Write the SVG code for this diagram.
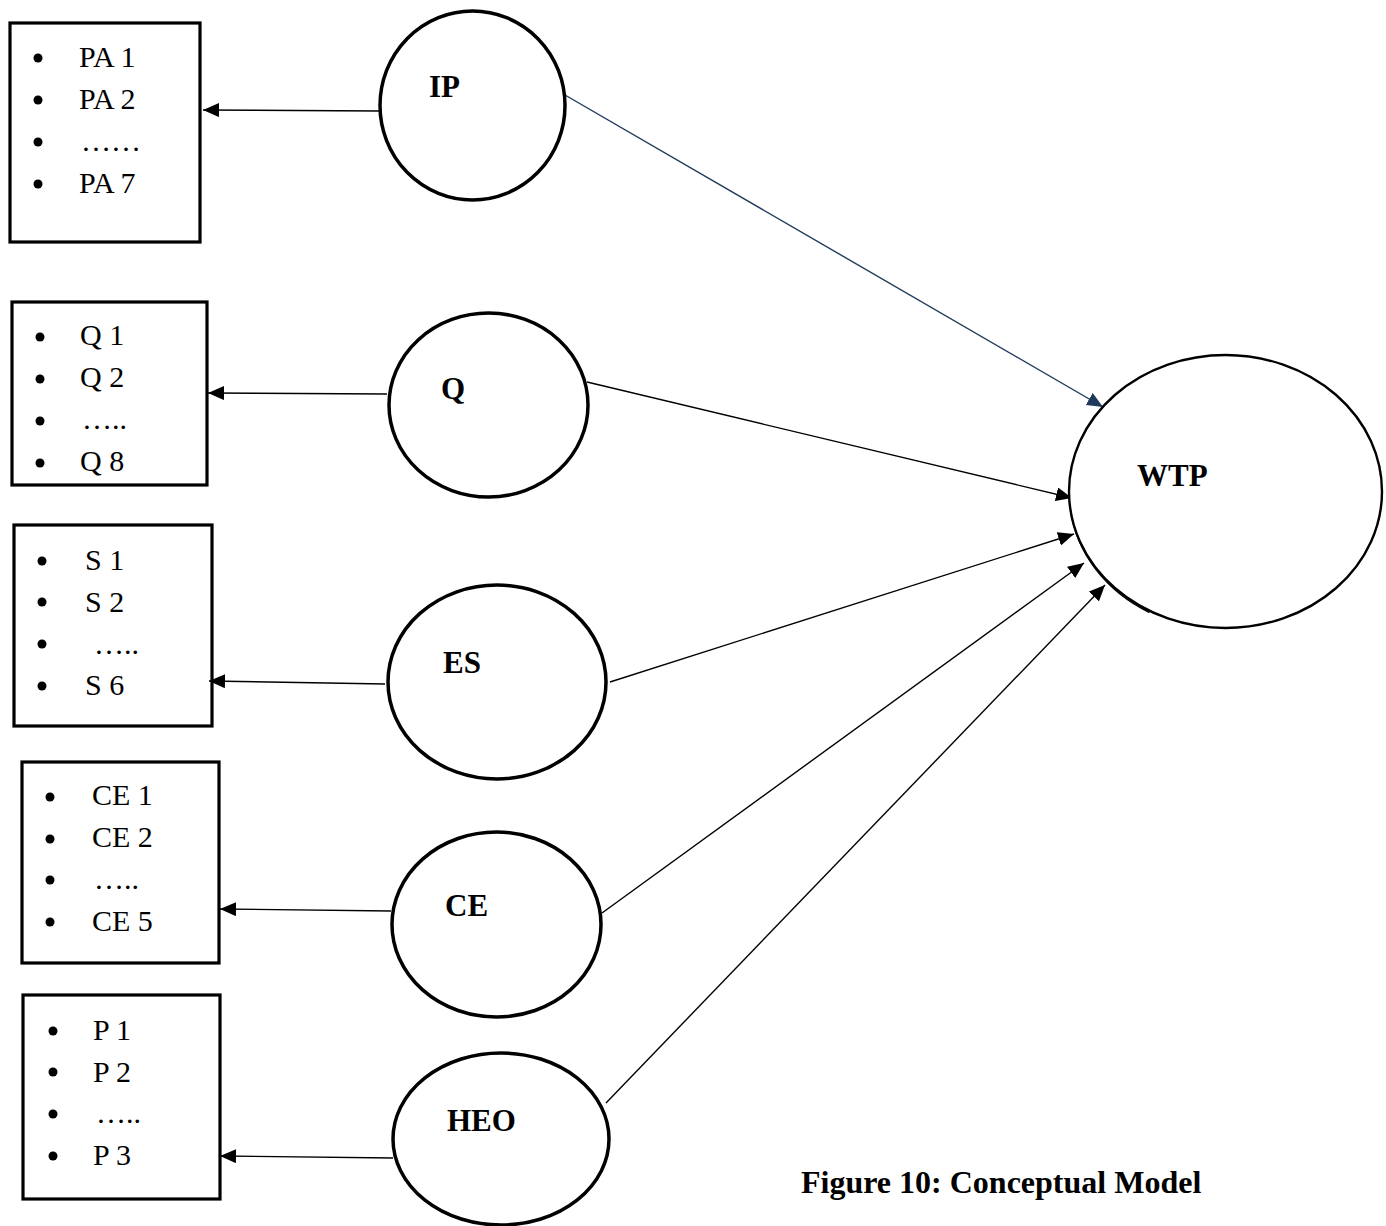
<svg xmlns="http://www.w3.org/2000/svg" width="1386" height="1226" viewBox="0 0 1386 1226">
  <style>
    .box { fill: #ffffff; stroke: #000000; stroke-width: 3.2; }
    .node { fill: #ffffff; stroke: #000000; stroke-width: 3.5; }
    .item { font-family: "Liberation Serif", "Times New Roman", serif; font-size: 30px; fill: #000000; }
    .label { font-family: "Liberation Serif", "Times New Roman", serif; font-size: 31px; font-weight: bold; fill: #000000; }
    .caption { font-family: "Liberation Serif", "Times New Roman", serif; font-size: 32px; font-weight: bold; fill: #000000; }
    .dot { fill: #000000; }
    .link { fill: none; stroke: #000000; stroke-width: 1.4; }
    .link-navy { fill: none; stroke: #1f3a5a; stroke-width: 1.4; }
  </style>
  <defs>
    <marker id="arrow" viewBox="0 0 16 14" refX="16" refY="7" markerWidth="16" markerHeight="14" markerUnits="userSpaceOnUse" orient="auto">
      <path d="M0,0 L16,7 L0,14 Z" fill="#000000"/>
    </marker>
    <marker id="arrow-navy" viewBox="0 0 16 14" refX="16" refY="7" markerWidth="16" markerHeight="14" markerUnits="userSpaceOnUse" orient="auto">
      <path d="M0,0 L16,7 L0,14 Z" fill="#1f3a5a"/>
    </marker>
  </defs>

  <rect width="1386" height="1226" fill="#ffffff"/>

  <!-- indicator boxes -->
  <g id="box-pa">
    <rect class="box" x="10" y="23" width="190" height="219"/>
    <circle class="dot" cx="38" cy="58" r="4.5"/>
    <circle class="dot" cx="38" cy="100" r="4.5"/>
    <circle class="dot" cx="38" cy="142" r="4.5"/>
    <circle class="dot" cx="38" cy="184" r="4.5"/>
    <text class="item" x="79" y="67">PA 1</text>
    <text class="item" x="79" y="109">PA 2</text>
    <text class="item" x="81" y="151">……</text>
    <text class="item" x="79" y="193">PA 7</text>
  </g>

  <g id="box-q">
    <rect class="box" x="12" y="302" width="195" height="183"/>
    <circle class="dot" cx="40" cy="337" r="4.5"/>
    <circle class="dot" cx="40" cy="379" r="4.5"/>
    <circle class="dot" cx="40" cy="421" r="4.5"/>
    <circle class="dot" cx="40" cy="463" r="4.5"/>
    <text class="item" x="80" y="345">Q 1</text>
    <text class="item" x="80" y="387">Q 2</text>
    <text class="item" x="82" y="429">…..</text>
    <text class="item" x="80" y="471">Q 8</text>
  </g>

  <g id="box-s">
    <rect class="box" x="14" y="525" width="198" height="201"/>
    <circle class="dot" cx="42" cy="561" r="4.5"/>
    <circle class="dot" cx="42" cy="602" r="4.5"/>
    <circle class="dot" cx="42" cy="644" r="4.5"/>
    <circle class="dot" cx="42" cy="686" r="4.5"/>
    <text class="item" x="85" y="570">S 1</text>
    <text class="item" x="85" y="612">S 2</text>
    <text class="item" x="94" y="654">…..</text>
    <text class="item" x="85" y="695">S 6</text>
  </g>

  <g id="box-ce">
    <rect class="box" x="22" y="762" width="197" height="201"/>
    <circle class="dot" cx="50" cy="797" r="4.5"/>
    <circle class="dot" cx="50" cy="839" r="4.5"/>
    <circle class="dot" cx="50" cy="880" r="4.5"/>
    <circle class="dot" cx="50" cy="922" r="4.5"/>
    <text class="item" x="92" y="805">CE 1</text>
    <text class="item" x="92" y="847">CE 2</text>
    <text class="item" x="94" y="889">…..</text>
    <text class="item" x="92" y="931">CE 5</text>
  </g>

  <g id="box-p">
    <rect class="box" x="23" y="995" width="197" height="204"/>
    <circle class="dot" cx="53" cy="1031" r="4.5"/>
    <circle class="dot" cx="53" cy="1072" r="4.5"/>
    <circle class="dot" cx="53" cy="1114" r="4.5"/>
    <circle class="dot" cx="53" cy="1156" r="4.5"/>
    <text class="item" x="93" y="1040">P 1</text>
    <text class="item" x="93" y="1082">P 2</text>
    <text class="item" x="96" y="1123">…..</text>
    <text class="item" x="93" y="1165">P 3</text>
  </g>

  <!-- connectors -->
  <g id="connectors">
    <line class="link" x1="379" y1="111" x2="203" y2="110" marker-end="url(#arrow)"/>
    <line class="link" x1="387" y1="394" x2="208" y2="393" marker-end="url(#arrow)"/>
    <line class="link" x1="385" y1="684" x2="209" y2="681" marker-end="url(#arrow)"/>
    <line class="link" x1="391" y1="911" x2="220" y2="909" marker-end="url(#arrow)"/>
    <line class="link" x1="393" y1="1158" x2="220" y2="1156" marker-end="url(#arrow)"/>

    <line class="link-navy" x1="565" y1="95" x2="1103" y2="407" marker-end="url(#arrow-navy)"/>
    <line class="link" x1="587" y1="382" x2="1072" y2="498" marker-end="url(#arrow)"/>
    <line class="link" x1="610" y1="682" x2="1074" y2="534" marker-end="url(#arrow)"/>
    <line class="link" x1="602" y1="913" x2="1084" y2="563" marker-end="url(#arrow)"/>
    <line class="link" x1="606" y1="1103" x2="1105" y2="585" marker-end="url(#arrow)"/>
  </g>

  <!-- construct nodes -->
  <g id="node-ip">
    <ellipse class="node" cx="472.5" cy="105.5" rx="92.5" ry="94.5"/>
    <text class="label" x="429" y="97">IP</text>
  </g>
  <g id="node-q">
    <ellipse class="node" cx="488.5" cy="405" rx="99.5" ry="92"/>
    <text class="label" x="441" y="399">Q</text>
  </g>
  <g id="node-es">
    <ellipse class="node" cx="497" cy="682" rx="109" ry="97"/>
    <text class="label" x="443" y="673">ES</text>
  </g>
  <g id="node-ce">
    <ellipse class="node" cx="496.5" cy="924.5" rx="104.5" ry="92.5"/>
    <text class="label" x="445" y="916">CE</text>
  </g>
  <g id="node-heo">
    <ellipse class="node" cx="501" cy="1139" rx="108" ry="86"/>
    <text class="label" x="447" y="1131">HEO</text>
  </g>
  <g id="node-wtp">
    <ellipse cx="1225.5" cy="491.5" rx="156.5" ry="136.5" fill="#ffffff" stroke="#000000" stroke-width="2.4"/>
    <!-- faint second stroke along the lower-left rim -->
    <path d="M1071,508 A155.5,136 0 0 0 1150,611" fill="none" stroke="#000000" stroke-width="1.4" transform="translate(-0.5,1.5)"/>
    <text class="label" x="1137" y="486">WTP</text>
  </g>

  <text class="caption" x="801" y="1193">Figure 10: Conceptual Model</text>
</svg>
